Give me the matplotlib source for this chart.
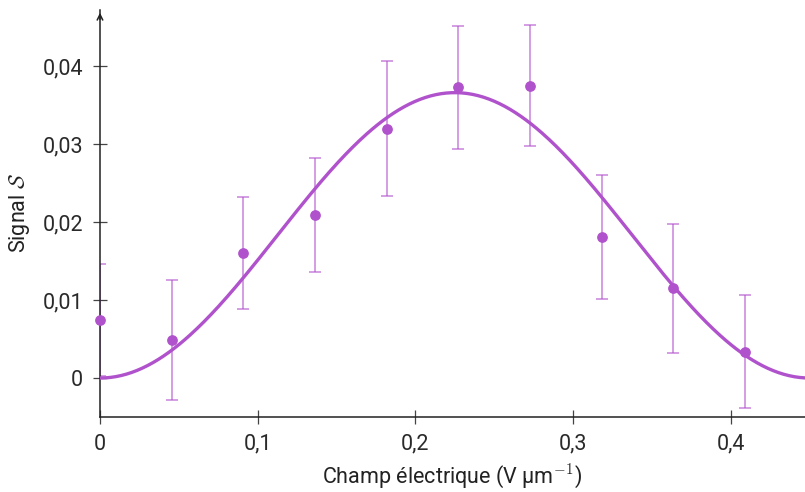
import numpy as np
import matplotlib
matplotlib.use("Agg")
import matplotlib.pyplot as plt
from matplotlib.ticker import FuncFormatter

plt.rcParams['font.family'] = ['Roboto', 'DejaVu Sans']
plt.rcParams['mathtext.fontset'] = 'cm'

# measured points
champ = [0.0, 0.0455, 0.0909, 0.1364, 0.1818, 0.2273, 0.2727, 0.3182, 0.3636, 0.4091]
signal = [0.0074, 0.0049, 0.0160, 0.0209, 0.0320, 0.0373, 0.0375, 0.0181, 0.0115, 0.0034]
erreur = [0.0072, 0.0077, 0.0072, 0.0073, 0.0087, 0.0079, 0.0078, 0.0080, 0.0083, 0.0072]

# fitted model S = A sin^2(pi E / L)
amplitude = 0.0366
periode = 0.450

xticks = [0, 0.1, 0.2, 0.3, 0.4]
yticks = [0, 0.01, 0.02, 0.03, 0.04]

violet = '#b052cc'

fig = plt.figure(figsize=(8.05, 4.92), dpi=100)
ax = fig.add_axes([0.1242, 0.1524, 0.8758, 0.8273])

e = np.linspace(0, 0.447, 400)
ax.plot(e, amplitude * np.sin(np.pi * e / periode) ** 2, color=violet, lw=2.4, zorder=3)

ax.errorbar(champ, signal, yerr=erreur, fmt='none', ecolor=violet, alpha=0.6,
            elinewidth=1.3, capsize=4, capthick=1.3, zorder=2)
ax.scatter(champ, signal, s=45, color=violet, zorder=4, clip_on=False)

ax.set_xlim(0, 0.447)
ax.set_ylim(-0.005, 0.0472)
ax.set_xticks(xticks)
ax.set_yticks(yticks)
fmt = FuncFormatter(lambda v, p: ('%g' % round(v, 3)).replace('.', ','))
ax.xaxis.set_major_formatter(fmt)
ax.yaxis.set_major_formatter(fmt)

for s in ['top', 'right']:
    ax.spines[s].set_visible(False)
for s in ['left', 'bottom']:
    ax.spines[s].set_color('#222222')
    ax.spines[s].set_linewidth(1.1)
ax.tick_params(direction='inout', length=10, width=0.9, color='#444444',
               labelsize=15.5, labelcolor='#2a2a2a', pad=7)

ax.annotate('', xy=(0, 1.0), xycoords='axes fraction', xytext=(0, 0.97),
            arrowprops=dict(arrowstyle='->', color='#222222', lw=1.1))

ax.set_xlabel('Champ électrique (V µm$^{-1}$)', fontsize=15.5, color='#222222', labelpad=5)
ax.set_ylabel(r'Signal $\mathcal{S}$', fontsize=15.5, color='#222222', labelpad=8)

fig.savefig('out.png', dpi=100)
